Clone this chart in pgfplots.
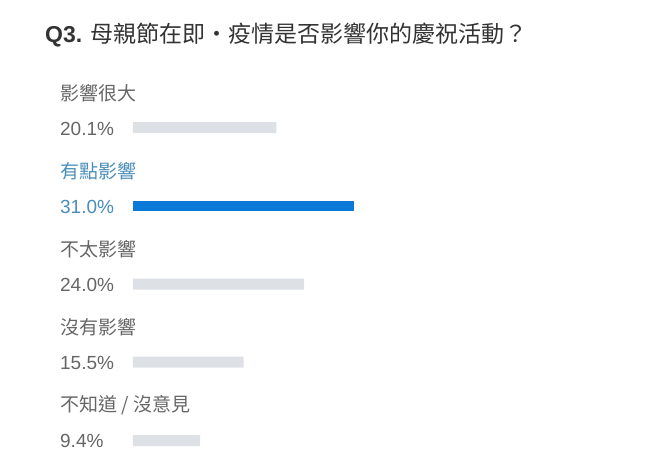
\documentclass[border=0pt]{standalone}
\usepackage{pgfplots}
\pgfplotsset{compat=1.18}
\usepackage{fontspec}
\setmainfont{Liberation Sans}
\newfontfamily\cjk{Noto Sans CJK TC}
\definecolor{barGray}{HTML}{DDE1E6}
\definecolor{barBlue}{HTML}{0A79D8}
\definecolor{txtGray}{HTML}{666666}
\definecolor{txtBlue}{HTML}{4A8EB8}
\definecolor{titleCol}{HTML}{333333}
\begin{document}
\begin{tikzpicture}
\begin{axis}[
    scale only axis,
    width=656pt, height=472pt,
    xmin=-18.65, xmax=73.35,
    ymin=0, ymax=472, y dir=reverse,
    hide axis, clip=false,
]
\path[use as bounding box] (rel axis cs:0,0) rectangle (rel axis cs:1,1);
% gray bars
\addplot[xbar, bar shift=0pt, bar width=11pt, fill=barGray, draw=none]
    coordinates {(20.1,127.5) (24.0,284) (15.5,362) (9.4,440.5)};
% highlighted answer
\addplot[xbar, bar shift=0pt, bar width=10pt, fill=barBlue, draw=none]
    coordinates {(31.0,206)};

\node[anchor=base west, text=titleCol, font=\fontsize{23}{25}\selectfont, inner sep=0pt]
    at (axis cs:-12.34,42.5) {\textbf{Q3.} \cjk 母親節在即・疫情是否影響你的慶祝活動？};

\begin{scope}[every node/.style={anchor=base west, inner sep=0pt, font=\fontsize{19}{21}\selectfont}]
\node[text=txtGray] at (axis cs:-10.24,100)  {\cjk 影響很大};
\node[text=txtGray] at (axis cs:-10.24,135) {20.1\%};
\node[text=txtBlue] at (axis cs:-10.24,178) {\cjk 有點影響};
\node[text=txtBlue] at (axis cs:-10.24,213) {31.0\%};
\node[text=txtGray] at (axis cs:-10.24,256) {\cjk 不太影響};
\node[text=txtGray] at (axis cs:-10.24,291) {24.0\%};
\node[text=txtGray] at (axis cs:-10.24,334) {\cjk 沒有影響};
\node[text=txtGray] at (axis cs:-10.24,369) {15.5\%};
\node[text=txtGray] at (axis cs:-10.24,411) {\cjk 不知道 / 沒意見};
\node[text=txtGray] at (axis cs:-10.24,447) {9.4\%};
\end{scope}
\end{axis}
\end{tikzpicture}
\end{document}
